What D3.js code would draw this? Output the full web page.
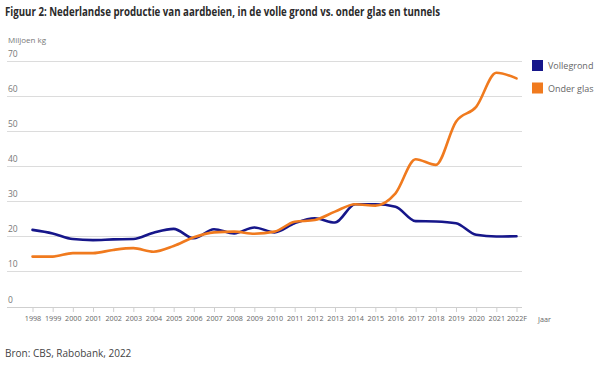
<!DOCTYPE html>
<html><head><meta charset="utf-8">
<script src="https://cdn.jsdelivr.net/npm/d3@7"></script>
<style>
body{margin:0;background:#fff;}
text{font-family:"Open Sans","Noto Sans",sans-serif;}
</style></head>
<body><svg id="c" width="600" height="365"></svg>
<script>
const years = ["1998","1999","2000","2001","2002","2003","2004","2005","2006","2007","2008","2009","2010","2011","2012","2013","2014","2015","2016","2017","2018","2019","2020","2021","2022F"];
const vollegrond = [21.8,20.8,19.2,18.9,19.1,19.2,21.0,22.1,19.4,22.0,20.8,22.5,21.1,23.7,25.1,23.9,29.1,29.1,28.4,24.3,24.2,23.7,20.4,19.9,20.0];
const onderGlas = [14.2,14.2,15.2,15.2,16.1,16.6,15.6,17.2,19.7,21.1,21.3,20.7,21.3,24.1,24.6,27.0,29.1,28.7,32.2,41.9,40.3,52.6,56.8,66.5,64.9];
const yTicks = [0,10,20,30,40,50,60,70];
const seriesNames = ["Vollegrond","Onder glas"];
const colors = ["#16168a","#f07a1e"];

const svg = d3.select("#c");
const x = d3.scalePoint().domain(years).range([32.5,516.5]);
const y = d3.scaleLinear().domain([0,70]).range([306.5,60.5]);

svg.append("text").attr("x",5).attr("y",16).attr("font-size",11.5).attr("font-weight","bold")
  .attr("fill","#2b2b2b").attr("textLength",435).attr("lengthAdjust","spacingAndGlyphs")
  .text("Figuur 2: Nederlandse productie van aardbeien, in de volle grond vs. onder glas en tunnels");

svg.append("text").attr("x",8).attr("y",43).attr("font-size",8).attr("fill","#777").text("Miljoen kg");

// grid
const g = svg.append("g");
g.selectAll("line.grid").data(yTicks).join("line")
  .attr("x1",7).attr("x2",522).attr("y1",d=>Math.round(y(d))+0.5).attr("y2",d=>Math.round(y(d))+0.5)
  .attr("stroke",d=>d===0?"#cfcfcf":"#dcdcdc").attr("stroke-width",1);
g.selectAll("text.yl").data(yTicks).join("text")
  .attr("x",8).attr("y",d=>y(d)-4).attr("font-size",8.5).attr("fill","#777").text(d=>d);

// x axis
const xa = svg.append("g").attr("transform","translate(0,307)")
  .call(d3.axisBottom(x).tickSize(5).tickPadding(4));
xa.select(".domain").remove();
xa.selectAll(".tick line").attr("stroke","#cfcfcf");
xa.selectAll(".tick text").attr("font-size",7.2).attr("fill","#666")
  .attr("font-family","'Open Sans','Noto Sans',sans-serif");
svg.append("text").attr("x",538).attr("y",322).attr("font-size",7.2).attr("fill","#666").text("Jaar");

// lines
const line = d3.line().x((d,i)=>x(years[i])).y(d=>y(d)).curve(d3.curveMonotoneX);
[vollegrond,onderGlas].forEach((s,k)=>{
  svg.append("path").attr("d",line(s)).attr("fill","none").attr("stroke",colors[k])
    .attr("stroke-width",2.6).attr("stroke-linejoin","round").attr("stroke-linecap","round");
});

// legend
seriesNames.forEach((n,k)=>{
  svg.append("rect").attr("x",532).attr("y",60+k*22.5).attr("width",11).attr("height",11).attr("fill",colors[k]);
  svg.append("text").attr("x",548).attr("y",69+k*22.5).attr("font-size",9).attr("fill","#666").text(n);
});

svg.append("text").attr("x",5).attr("y",357).attr("font-size",10).attr("fill","#444").text("Bron: CBS, Rabobank, 2022");
</script></body></html>
